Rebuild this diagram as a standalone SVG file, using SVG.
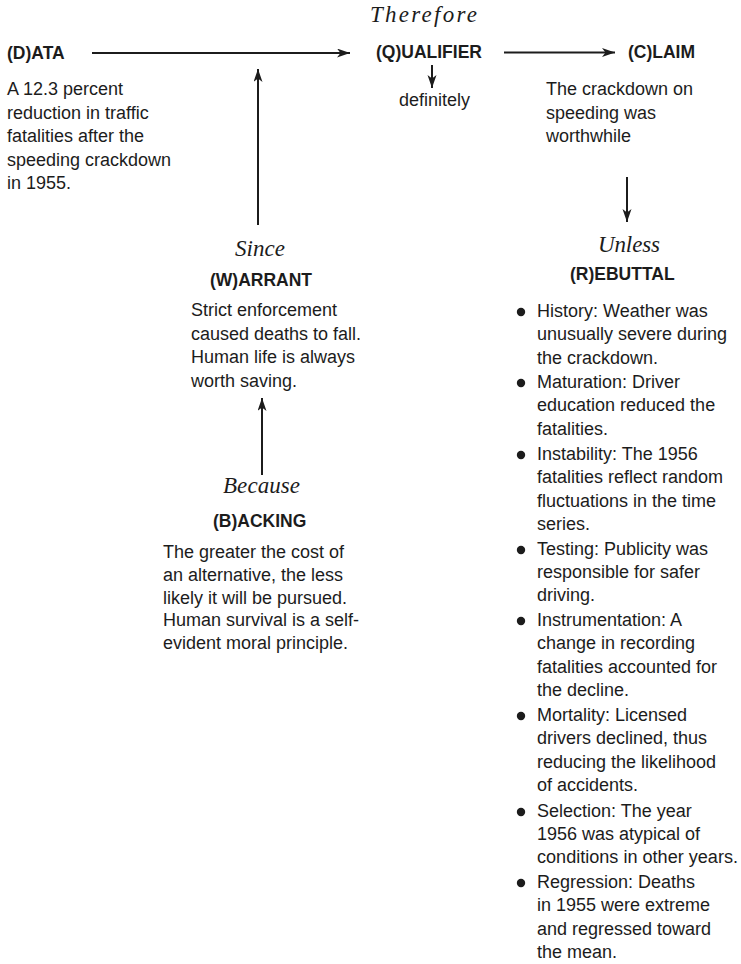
<svg xmlns="http://www.w3.org/2000/svg" width="741" height="964" viewBox="0 0 741 964">
<style>
text{fill:#1c1c1c}
.h{font-family:"Liberation Sans",Arial,sans-serif;font-weight:bold;font-size:17.5px}
.b{font-family:"Liberation Sans",Arial,sans-serif;font-size:18px}
.i{font-family:"Liberation Serif","Times New Roman",serif;font-style:italic;font-size:23px}
.c{stroke:#1c1c1c;stroke-width:2;fill:none;marker-end:url(#ah)}
.dot{fill:#1c1c1c}
</style>
<defs>
<marker id="ah" markerUnits="userSpaceOnUse" markerWidth="14" markerHeight="10" refX="13" refY="4.5" orient="auto">
<path d="M0,0 L13,4.5 L0,9 L3.5,4.5 z" fill="#1c1c1c"/>
</marker>
</defs>
<g id="connectors">
<line class="c" x1="92" y1="53" x2="350" y2="53"/>
<line class="c" x1="504" y1="52.5" x2="615" y2="52.5"/>
<line class="c" x1="432" y1="65" x2="432" y2="88"/>
<line class="c" x1="627" y1="177" x2="627" y2="222"/>
<line class="c" x1="258" y1="225" x2="258" y2="69"/>
<line class="c" x1="262" y1="475" x2="262" y2="398"/>
</g>
<g id="data">
<text class="h" x="7" y="59">(D)ATA</text>
<text class="b" x="7" y="95">A 12.3 percent</text>
<text class="b" x="7" y="118.5">reduction in traffic</text>
<text class="b" x="7" y="142">fatalities after the</text>
<text class="b" x="7" y="165.5">speeding crackdown</text>
<text class="b" x="7" y="189">in 1955.</text>
</g>
<g id="qualifier">
<text class="i" x="370" y="22" textLength="107" lengthAdjust="spacing">Therefore</text>
<text class="h" x="376" y="58">(Q)UALIFIER</text>
<text class="b" x="399" y="106">definitely</text>
</g>
<g id="claim">
<text class="h" x="628" y="58">(C)LAIM</text>
<text class="b" x="546" y="95">The crackdown on</text>
<text class="b" x="546" y="118.5">speeding was</text>
<text class="b" x="546" y="142">worthwhile</text>
</g>
<g id="warrant">
<text class="i" x="235" y="256" textLength="50" lengthAdjust="spacing">Since</text>
<text class="h" x="210" y="286">(W)ARRANT</text>
<text class="b" x="191" y="316">Strict enforcement</text>
<text class="b" x="191" y="339.5">caused deaths to fall.</text>
<text class="b" x="191" y="363">Human life is always</text>
<text class="b" x="191" y="386.5">worth saving.</text>
</g>
<g id="backing">
<text class="i" x="223" y="493" textLength="77" lengthAdjust="spacing">Because</text>
<text class="h" x="213" y="527">(B)ACKING</text>
<text class="b" x="163" y="558">The greater the cost of</text>
<text class="b" x="163" y="581">an alternative, the less</text>
<text class="b" x="163" y="603.5">likely it will be pursued.</text>
<text class="b" x="163" y="626">Human survival is a self-</text>
<text class="b" x="163" y="649">evident moral principle.</text>
</g>
<g id="rebuttal">
<text class="i" x="598" y="252" textLength="62" lengthAdjust="spacing">Unless</text>
<text class="h" x="570" y="280">(R)EBUTTAL</text>
<circle class="dot" cx="521" cy="312" r="4.2"/>
<text class="b" x="537" y="317">History: Weather was</text>
<text class="b" x="537" y="340.3">unusually severe during</text>
<text class="b" x="537" y="363.6">the crackdown.</text>
<circle class="dot" cx="521" cy="383" r="4.2"/>
<text class="b" x="537" y="388">Maturation: Driver</text>
<text class="b" x="537" y="411.3">education reduced the</text>
<text class="b" x="537" y="434.6">fatalities.</text>
<circle class="dot" cx="521" cy="455" r="4.2"/>
<text class="b" x="537" y="460">Instability: The 1956</text>
<text class="b" x="537" y="483.3">fatalities reflect random</text>
<text class="b" x="537" y="506.6">fluctuations in the time</text>
<text class="b" x="537" y="530">series.</text>
<circle class="dot" cx="521" cy="550" r="4.2"/>
<text class="b" x="537" y="555">Testing: Publicity was</text>
<text class="b" x="537" y="578">responsible for safer</text>
<text class="b" x="537" y="601">driving.</text>
<circle class="dot" cx="521" cy="621" r="4.2"/>
<text class="b" x="537" y="626">Instrumentation: A</text>
<text class="b" x="537" y="649.3">change in recording</text>
<text class="b" x="537" y="672.6">fatalities accounted for</text>
<text class="b" x="537" y="696">the decline.</text>
<circle class="dot" cx="521" cy="716" r="4.2"/>
<text class="b" x="537" y="721">Mortality: Licensed</text>
<text class="b" x="537" y="744.3">drivers declined, thus</text>
<text class="b" x="537" y="767.6">reducing the likelihood</text>
<text class="b" x="537" y="791">of accidents.</text>
<circle class="dot" cx="521" cy="812" r="4.2"/>
<text class="b" x="537" y="817">Selection: The year</text>
<text class="b" x="537" y="840">1956 was atypical of</text>
<text class="b" x="537" y="863" textLength="201" lengthAdjust="spacingAndGlyphs">conditions in other years.</text>
<circle class="dot" cx="521" cy="883" r="4.2"/>
<text class="b" x="537" y="888">Regression: Deaths</text>
<text class="b" x="537" y="911.3">in 1955 were extreme</text>
<text class="b" x="537" y="934.6">and regressed toward</text>
<text class="b" x="537" y="958">the mean.</text>
</g>
</svg>
